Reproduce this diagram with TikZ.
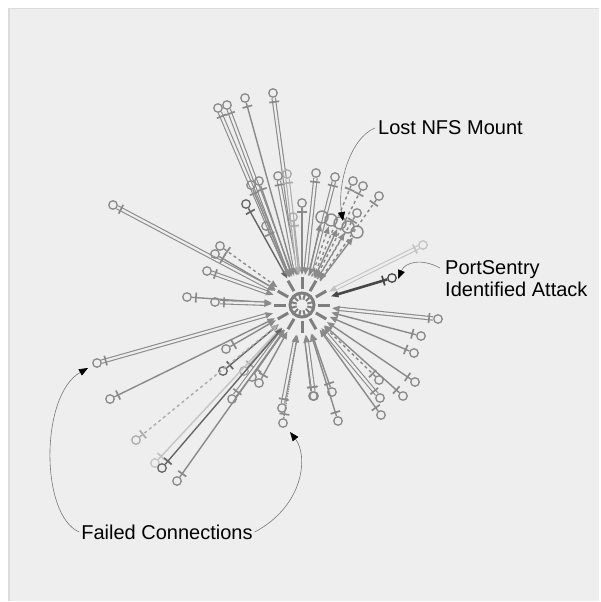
\documentclass[tikz,border=0pt]{standalone}
\usepackage{fontspec}
\setmainfont{Liberation Sans}
\usetikzlibrary{calc,arrows.meta}
\definecolor{bg}{HTML}{EEEEEE}
\definecolor{frm}{HTML}{DCDCDC}
\definecolor{eg}{HTML}{8A8A8A}
\definecolor{lg}{HTML}{ABABAB}
\definecolor{vlg}{HTML}{C4C4C4}
\definecolor{dg}{HTML}{666666}
\definecolor{xdg}{HTML}{484848}
\definecolor{hubc}{HTML}{7E7E7E}
\definecolor{annc}{HTML}{777777}
\tikzset{
  endpt/.style={circle,draw=#1,line width=1.3pt,minimum size=8.5pt,inner sep=0pt},
  bigpt/.style={circle,draw=eg,line width=1.4pt,minimum size=12pt,inner sep=0pt},
  lk/.style={draw=#1,line width=1.4pt,-{Triangle[length=7.5pt,width=6pt]}},
  dbl/.style={double=bg,double distance=2.2pt,line width=1.1pt},
  barst/.style={draw=#1,line width=1.7pt},
  hubnode/.style={circle,minimum size=60pt,inner sep=0pt,draw=none},
  ann/.style={draw=annc,line width=0.6pt,-{Triangle[length=9pt,width=7pt,color=black,fill=black]}},
  lbl/.style={font=\fontsize{20}{22}\selectfont,text=black,inner sep=0pt},
}
\newcommand\edgeto[5][]{%
  \node[endpt=#5] (#2) at (#3,#4) {};
  \draw[lk=#5,#1] (#2) -- (hub);
  \draw[barst=#5] ($(#2)!9pt!(hub)!5pt!90:(hub)$) -- ($(#2)!9pt!(hub)!5pt!-90:(hub)$);
}
\begin{document}
\begin{tikzpicture}[x=1pt,y=-1pt]
\useasboundingbox (0,0) rectangle (600,602);
\fill[white] (0,0) rectangle (600,602);
\fill[bg] (8,8) rectangle (599,601);
\draw[frm,line width=1.5pt] (8.75,601) -- (8.75,8.75) -- (599,8.75);

\node[hubnode] (hub) at (302,305) {};

% top
\edgeto[dbl]{t1}{218}{108}{eg}
\edgeto[dbl]{t2}{227}{105}{eg}
\edgeto{t3}{245}{98}{eg}
\edgeto[dbl]{t4}{273}{93}{eg}
\edgeto{t5}{251}{185}{eg}
\edgeto{t6}{259}{181}{eg}
\edgeto{t7}{246}{204}{dg}
\edgeto{t8}{266}{226}{eg}
\edgeto[dbl]{t9}{278}{176}{eg}
\edgeto[dbl]{t10}{287}{174}{lg}
\edgeto{t11}{302}{203}{eg}
\edgeto[dbl]{t12}{316}{173}{eg}
\edgeto[dbl]{t13}{335}{177}{eg}
\edgeto[dashed]{t14}{353}{181}{eg}
\edgeto[dashed]{t15}{363}{186}{eg}
\edgeto[dashed]{t16}{379}{196}{eg}
\edgeto[dashed]{t17}{357}{213}{eg}
\edgeto{t18}{293}{217}{lg}

% lost NFS cluster
\node[bigpt] (b1) at (322,217) {};
\node[bigpt] (b2) at (331,220) {};
\node[bigpt] (b3) at (340,223) {};
\node[bigpt] (b4) at (348,227) {};
\node[bigpt] (b5) at (357,232) {};
\draw[lk=eg] (hub) -- (b1);
\draw[lk=eg,dashed] (hub) -- (b2);
\draw[lk=eg] (hub) -- (b3);
\draw[lk=eg,dashed] (hub) -- (b4);
\draw[lk=eg] (hub) -- (b5);

% left
\edgeto[dbl]{l1}{113}{205}{eg}
\edgeto[dashed]{l2}{220}{246}{eg}
\edgeto{l3}{215}{254}{eg}
\edgeto[dbl]{l4}{207}{271}{eg}
\edgeto{l5}{187}{297}{eg}
\edgeto[dbl]{l6}{215}{302}{eg}
\edgeto[dbl]{l7}{97}{363}{eg}
\edgeto{l8}{110}{399}{eg}
\edgeto{l9}{226}{349}{eg}
\edgeto{l10}{223}{371}{dg}
\edgeto{l11}{244}{371}{lg}
\edgeto{l12}{252}{377}{eg}
\edgeto{l13}{259}{383}{eg}
\edgeto[dbl]{l14}{232}{399}{eg}
\edgeto[dashed]{l15}{136}{440}{lg}
\edgeto{l16}{155}{463}{vlg}
\edgeto{l17}{162}{468}{dg}
\edgeto{l18}{177}{481}{eg}
\edgeto[dbl]{l19}{282}{408}{eg}
\edgeto[densely dotted]{l20}{283}{423}{eg}
\edgeto[dbl]{l21}{313}{396}{eg}

% right
\edgeto[dbl]{r1}{423}{245}{vlg}
\edgeto[line width=2.6pt]{r2}{392}{278}{xdg}
\edgeto[dbl]{r3}{438}{319}{eg}
\edgeto{r4}{421}{336}{eg}
\edgeto{r5}{414}{353}{eg}
\edgeto{r6}{415}{382}{eg}
\edgeto{r7}{403}{396}{eg}
\edgeto[dashed]{r8}{379}{380}{eg}
\edgeto[dbl]{r9}{380}{398}{eg}
\edgeto{r10}{381}{415}{eg}
\edgeto[dbl]{r11}{314}{396}{eg}
\edgeto{r12}{332}{392}{eg}
\edgeto{r13}{338}{421}{eg}

% hub
\begin{scope}[shift={(hub.center)},hubc,line width=3pt]
  \draw (0,0) circle (12);
  \foreach \a in {0,30,...,330} \draw (\a:16) -- (\a:28);
  \foreach \a in {15,45,...,345} \draw[line width=2pt] (\a:5.5) -- (\a:10.5);
\end{scope}

% annotations
\node[lbl,anchor=west] (lnfs) at (378,128) {Lost NFS Mount};
\node[lbl,anchor=west,align=left] (ps) at (445,279) {PortSentry\\Identified Attack};
\node[lbl] (fc) at (167,532) {Failed Connections};
\coordinate (nfstip) at (343,221);
\coordinate (pstip) at (398,279);
\coordinate (fctipa) at (88,368);
\coordinate (fctipb) at (290,432);
\draw[ann] ([xshift=-3pt]lnfs.west) .. controls (350,138) and (337,185) .. (nfstip);
\draw[ann] (440,268) .. controls (422,258) and (405,262) .. (pstip);
\draw[ann] ([xshift=-2pt]fc.west) .. controls (40,515) and (40,395) .. (fctipa);
\draw[ann] ([xshift=2pt]fc.east) .. controls (305,505) and (308,455) .. (fctipb);
\end{tikzpicture}
\end{document}
